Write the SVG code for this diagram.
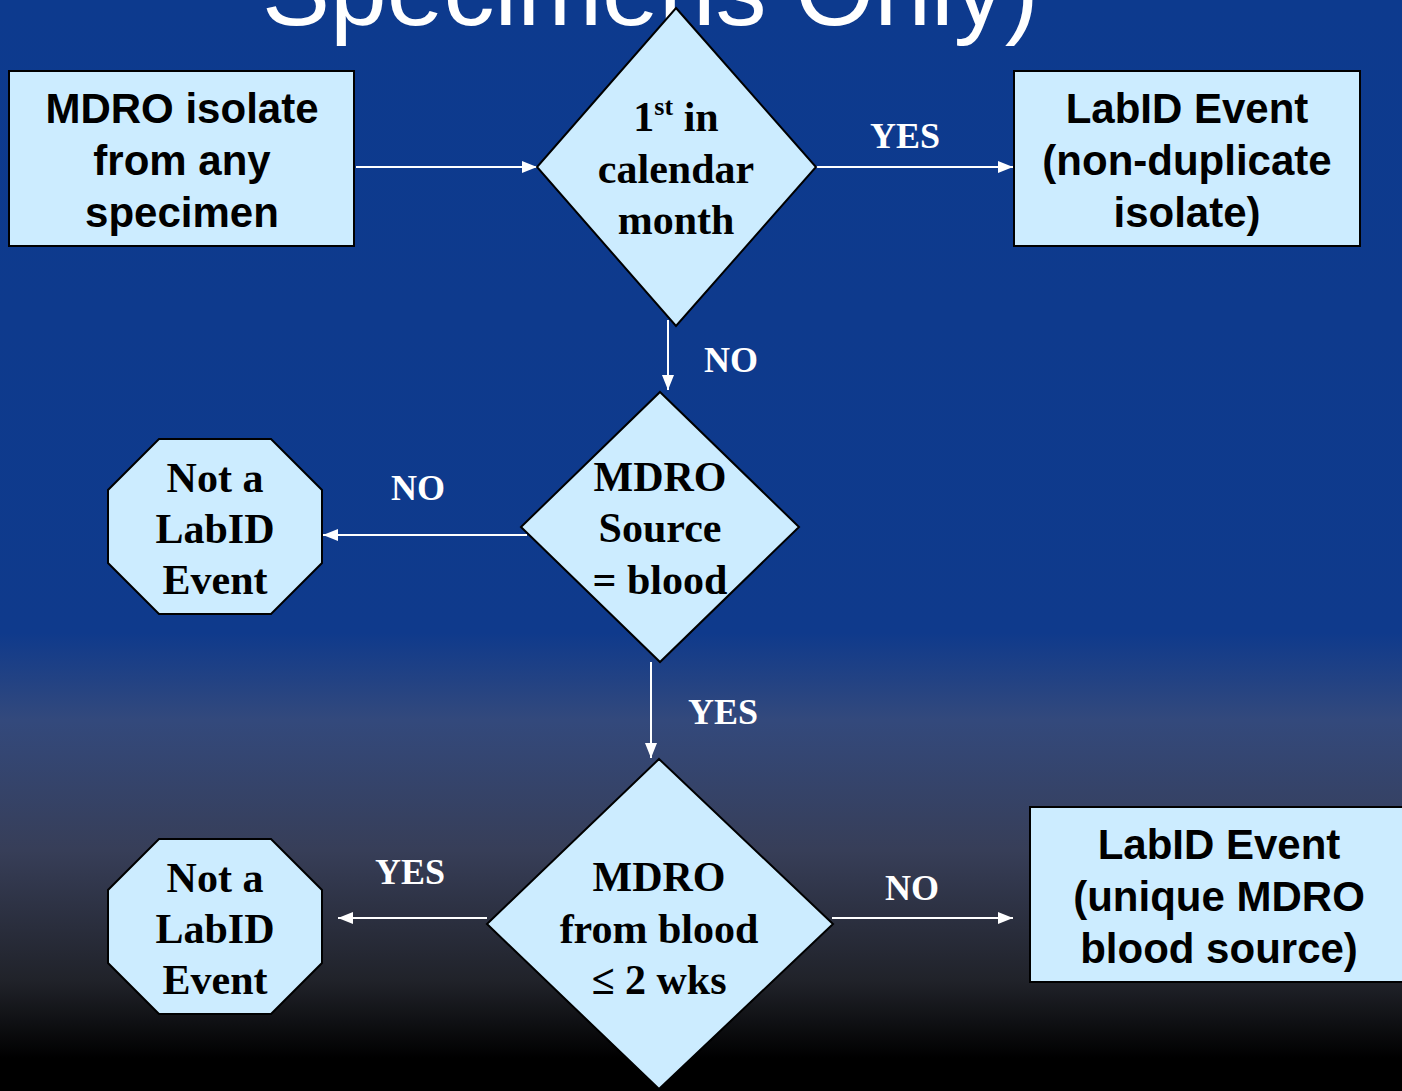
<svg xmlns="http://www.w3.org/2000/svg" width="1402" height="1091" viewBox="0 0 1402 1091">
<defs>
<linearGradient id="bg" x1="0" y1="0" x2="0" y2="1">
<stop offset="0" stop-color="#0D3A8E"/>
<stop offset="0.58" stop-color="#0F3A8C"/>
<stop offset="0.66" stop-color="#33497C"/>
<stop offset="0.78" stop-color="#373E58"/>
<stop offset="0.90" stop-color="#202229"/>
<stop offset="0.97" stop-color="#000000"/>
<stop offset="1" stop-color="#000000"/>
</linearGradient>
<marker id="arr" viewBox="0 0 15 12" refX="15" refY="6" markerWidth="15" markerHeight="12" markerUnits="userSpaceOnUse" orient="auto">
<path d="M0,0 L15,6 L0,12 Z" fill="#FFFFFF"/>
</marker>
<style>
.shape{fill:#CCECFF;stroke:#000;stroke-width:2}
.sans{font-family:"Liberation Sans",Arial,sans-serif;font-weight:bold;font-size:42px;fill:#000;text-anchor:middle}
.serif{font-family:"Liberation Serif","Times New Roman",serif;font-weight:bold;font-size:42px;fill:#000;text-anchor:middle}
.lbl{font-family:"Liberation Serif","Times New Roman",serif;font-weight:bold;font-size:36px;fill:#FFF;text-anchor:middle}
.conn{stroke:#FFF;stroke-width:2;fill:none;marker-end:url(#arr)}
</style>
</defs>
<rect x="0" y="0" width="1402" height="1091" fill="url(#bg)"/>
<text x="262" y="25" font-family="'Liberation Sans',Arial,sans-serif" font-size="102" fill="#FFF">Specimens Only)</text>

<g id="connectors">
<line class="conn" x1="356" y1="167" x2="537" y2="167"/>
<line class="conn" x1="816" y1="167" x2="1013" y2="167"/>
<line class="conn" x1="668" y1="320" x2="668" y2="390"/>
<line class="conn" x1="527" y1="535" x2="323" y2="535"/>
<line class="conn" x1="651" y1="662" x2="651" y2="758"/>
<line class="conn" x1="487" y1="918" x2="338" y2="918"/>
<line class="conn" x1="832" y1="918" x2="1013" y2="918"/>
<text class="lbl" x="905" y="148">YES</text>
<text class="lbl" x="731" y="372">NO</text>
<text class="lbl" x="418" y="500">NO</text>
<text class="lbl" x="723" y="724">YES</text>
<text class="lbl" x="410" y="884">YES</text>
<text class="lbl" x="912" y="900">NO</text>
</g>

<g id="start">
<rect class="shape" x="9" y="71" width="345" height="175"/>
<text class="sans" x="182" y="123">MDRO isolate</text>
<text class="sans" x="182" y="175">from any</text>
<text class="sans" x="182" y="227">specimen</text>
</g>

<g id="d1">
<polygon class="shape" points="676,8 816,167 676,326 537,167"/>
<text class="serif" x="676" y="131">1<tspan font-size="26" dy="-16">st</tspan><tspan dy="16"> in</tspan></text>
<text class="serif" x="676" y="183">calendar</text>
<text class="serif" x="676" y="234">month</text>
</g>

<g id="labid1">
<rect class="shape" x="1014" y="71" width="346" height="175"/>
<text class="sans" x="1187" y="123">LabID Event</text>
<text class="sans" x="1187" y="175">(non-duplicate</text>
<text class="sans" x="1187" y="227">isolate)</text>
</g>

<g id="d2">
<polygon class="shape" points="660,392 799,527 660,662 521,527"/>
<text class="serif" x="660" y="491">MDRO</text>
<text class="serif" x="660" y="542">Source</text>
<text class="serif" x="660" y="594">= blood</text>
</g>

<g id="not1">
<polygon class="shape" points="159,439 271,439 322,490 322,563 271,614 159,614 108,563 108,490"/>
<text class="serif" x="215" y="492">Not a</text>
<text class="serif" x="215" y="543">LabID</text>
<text class="serif" x="215" y="594">Event</text>
</g>

<g id="d3">
<polygon class="shape" points="659,759 833,924 659,1089 487,924"/>
<text class="serif" x="659" y="891">MDRO</text>
<text class="serif" x="659" y="943">from blood</text>
<text class="serif" x="659" y="994">≤ 2 wks</text>
</g>

<g id="not2">
<polygon class="shape" points="159,839 271,839 322,890 322,963 271,1014 159,1014 108,963 108,890"/>
<text class="serif" x="215" y="892">Not a</text>
<text class="serif" x="215" y="943">LabID</text>
<text class="serif" x="215" y="994">Event</text>
</g>

<g id="labid2">
<rect class="shape" x="1030" y="807" width="380" height="175"/>
<text class="sans" x="1219" y="859">LabID Event</text>
<text class="sans" x="1219" y="911">(unique MDRO</text>
<text class="sans" x="1219" y="963">blood source)</text>
</g>
</svg>
